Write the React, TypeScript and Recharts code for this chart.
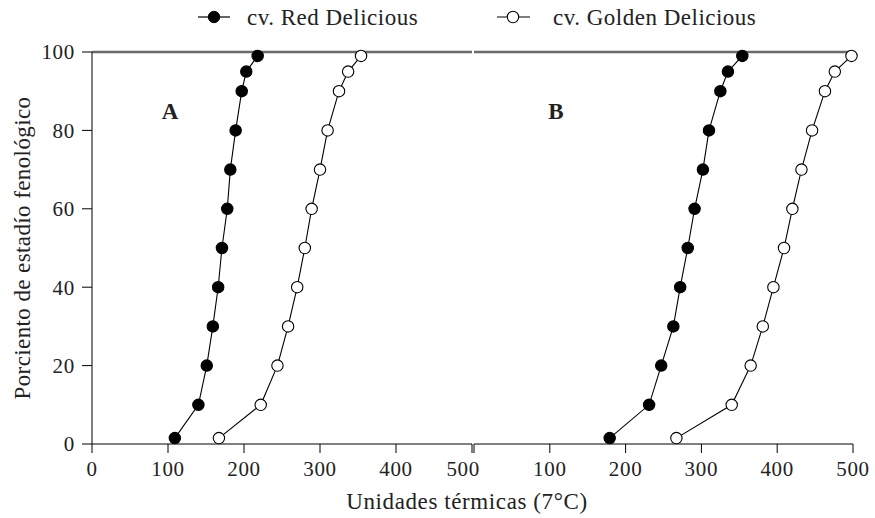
import { LineChart, Line, XAxis, YAxis, ReferenceLine } from 'recharts';

// porcentaje del estadio fenológico (eje Y) y unidades térmicas (eje X)
const stages = [1.5, 10, 20, 30, 40, 50, 60, 70, 80, 90, 95, 99];
const redA = [109, 140, 151, 159, 166, 171, 178, 182, 189, 197, 203, 218];
const goldenA = [167, 222, 244, 258, 270, 280, 289, 300, 310, 325, 337, 354];
const redB = [179, 231, 247, 263, 272, 282, 291, 302, 310, 325, 335, 354];
const goldenB = [267, 340, 365, 381, 395, 409, 420, 432, 446, 463, 476, 498];

const xTicks = [0, 100, 200, 300, 400, 500];
const yTicks = [0, 20, 40, 60, 80, 100];

const toPoints = (xs: number[]) => xs.map((ut, i) => ({ ut, pct: stages[i] }));

const FONT = '"Liberation Serif", "Times New Roman", serif';
const tickStyle = { fill: '#222', fontSize: 21, fontFamily: FONT, letterSpacing: 0.7 };

const redDot = { r: 5.7, fill: '#000', stroke: '#000', strokeWidth: 1.1 };
const goldenDot = { r: 5.7, fill: '#fff', stroke: '#000', strokeWidth: 1.1 };

export default function App() {
  const W = 875;
  const H = 518;

  return (
    <div style={{ position: 'absolute', left: 0, top: 0, width: W, height: H, background: '#fff' }}>
      {/* Panel A */}
      <div style={{ position: 'absolute', left: 0, top: 0 }}>
        <LineChart width={480} height={H} margin={{ top: 52, right: 8, bottom: 0, left: 0 }}>
          <XAxis
            type="number"
            dataKey="ut"
            domain={[0, 500]}
            ticks={xTicks}
            height={74}
            tickSize={9}
            tickMargin={8}
            stroke="#000"
            tick={tickStyle}
          />
          <YAxis
            type="number"
            dataKey="pct"
            domain={[0, 100]}
            ticks={yTicks}
            width={92}
            tickSize={10}
            tickMargin={7}
            stroke="#000"
            tick={tickStyle}
          />
          <YAxis
            yAxisId="frame"
            orientation="right"
            mirror
            width={0}
            domain={[0, 100]}
            ticks={[20, 40, 60, 80]}
            tickSize={9}
            tick={false}
            stroke="#000"
          />
          <ReferenceLine y={100} stroke="#6a6a6a" strokeWidth={2.5} />
          <Line data={toPoints(redA)} dataKey="pct" name="cv. Red Delicious" stroke="#000" strokeWidth={1.1} dot={redDot} isAnimationActive={false} />
          <Line data={toPoints(goldenA)} dataKey="pct" name="cv. Golden Delicious" stroke="#000" strokeWidth={1.1} dot={goldenDot} isAnimationActive={false} />
        </LineChart>
      </div>

      {/* Panel B */}
      <div style={{ position: 'absolute', left: 0, top: 0 }}>
        <LineChart width={W} height={H} margin={{ top: 52, right: 22, bottom: 0, left: 474 }}>
          <XAxis
            type="number"
            dataKey="ut"
            domain={[0, 500]}
            ticks={xTicks}
            height={74}
            tickSize={9}
            tickMargin={8}
            stroke="#000"
            tick={tickStyle}
            tickFormatter={(v: number) => (v === 0 ? '' : String(v))}
          />
          <YAxis type="number" dataKey="pct" domain={[0, 100]} hide />
          <YAxis
            yAxisId="frame"
            orientation="right"
            width={0}
            domain={[0, 100]}
            tick={false}
            tickLine={false}
            stroke="#333"
          />
          <ReferenceLine y={100} stroke="#6a6a6a" strokeWidth={2.5} />
          <Line data={toPoints(redB)} dataKey="pct" name="cv. Red Delicious" stroke="#000" strokeWidth={1.1} dot={redDot} isAnimationActive={false} />
          <Line data={toPoints(goldenB)} dataKey="pct" name="cv. Golden Delicious" stroke="#000" strokeWidth={1.1} dot={goldenDot} isAnimationActive={false} />
        </LineChart>
      </div>

      {/* títulos, leyenda y letras de panel */}
      <svg width={W} height={H} style={{ position: 'absolute', left: 0, top: 0, pointerEvents: 'none' }} fontFamily={FONT}>
        <g>
          <line x1={198} y1={17} x2={230} y2={17} stroke="#000" strokeWidth={1.2} />
          <circle cx={214} cy={17} r={5.7} fill="#000" stroke="#000" />
          <text x={247} y={25} fontSize={23} fill="#222" letterSpacing={0.5}>cv. Red Delicious</text>
          <line x1={497} y1={17} x2={530} y2={17} stroke="#000" strokeWidth={1.2} />
          <circle cx={513} cy={17} r={5.7} fill="#fff" stroke="#000" strokeWidth={1.1} />
          <text x={553} y={25} fontSize={23} fill="#222" letterSpacing={0.5}>cv. Golden Delicious</text>
        </g>
        <text x={170} y={119} fontSize={23} fontWeight="bold" textAnchor="middle" fill="#222">A</text>
        <text x={556} y={119} fontSize={23} fontWeight="bold" textAnchor="middle" fill="#222">B</text>
        <text
          x={22}
          y={248}
          fontSize={23}
          fill="#222"
          textAnchor="middle"
          dominantBaseline="central"
          letterSpacing={0.4}
          transform="rotate(-90 22 248)"
        >
          Porciento de estadío fenológico
        </text>
        <text x={467} y={509} fontSize={23} fill="#222" textAnchor="middle" letterSpacing={0.6}>
          Unidades térmicas (7°C)
        </text>
      </svg>
    </div>
  );
}
